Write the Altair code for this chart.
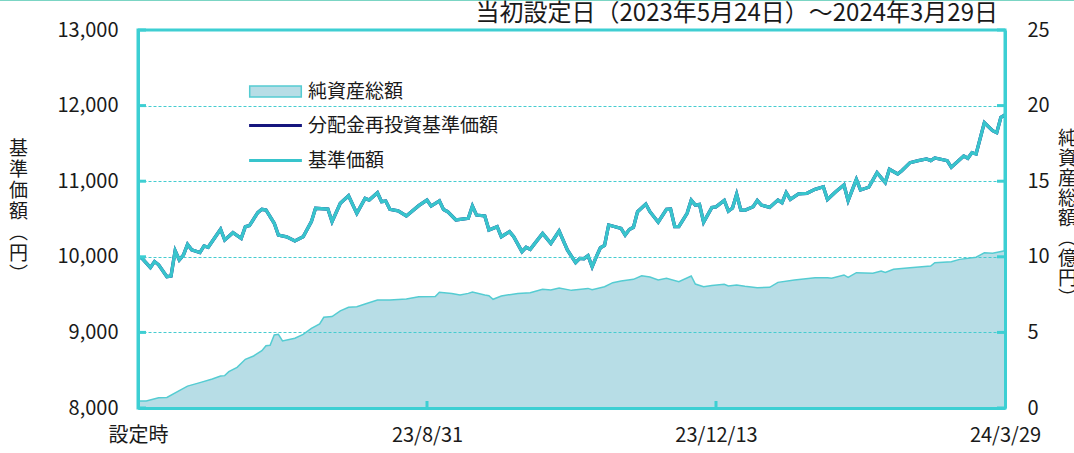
import altair as alt
import pandas as pd

# ---------------- data ----------------
# x positions are trading-day indices from the launch date (0) to 2024/3/29 (210)
nav_idx = [0, 1, 3, 4, 5, 7, 8, 9, 10, 11, 12, 13, 15, 16, 17, 20, 21, 23, 25, 26,
           27, 29, 30, 31, 33, 34, 36, 38, 40, 42, 43, 46, 47, 49, 51, 53, 55, 56, 58, 59,
           60, 61, 63, 65, 68, 70, 71, 73, 74, 75, 77, 80, 81, 82, 84, 85, 87, 88, 90, 91,
           93, 94, 95, 98, 100, 102, 104, 106, 107, 108, 109, 110, 111, 112, 113, 114, 117, 118, 119, 120,
           121, 123, 124, 126, 128, 129, 130, 131, 133, 134, 135, 136, 137, 139, 140, 142, 143, 144, 145, 146,
           147, 149, 150, 151, 153, 155, 156, 157, 158, 160, 162, 164, 166, 167, 169, 171, 172, 174, 175, 177,
           179, 181, 182, 184, 185, 187, 189, 191, 192, 193, 196, 197, 200, 201, 202, 203, 205, 207, 208, 209,
           210]
nav_val = [10000, 9980, 9857, 9937, 9894, 9737, 9745, 10081, 9958, 10023, 10165, 10093, 10056, 10143, 10126, 10364, 10222, 10319, 10244, 10399,
           10413, 10584, 10628, 10619, 10443, 10288, 10265, 10209, 10265, 10465, 10641, 10632, 10465, 10707, 10808, 10575, 10773, 10750, 10848, 10729,
           10738, 10628, 10609, 10540, 10676, 10750, 10671, 10740, 10625, 10597, 10487, 10509, 10671, 10552, 10540, 10354, 10399, 10265, 10332, 10265,
           10068, 10126, 10099, 10309, 10177, 10341, 10090, 9922, 9979, 9975, 10015, 9868, 10000, 10120, 10150, 10421, 10377, 10288, 10360, 10390,
           10597, 10698, 10597, 10457, 10628, 10632, 10399, 10399, 10575, 10750, 10684, 10694, 10458, 10653, 10660, 10745, 10603, 10645, 10828, 10619,
           10614, 10662, 10746, 10684, 10653, 10750, 10715, 10848, 10759, 10831, 10840, 10892, 10927, 10759, 10861, 10950, 10742, 11025, 10884, 10920,
           11114, 10982, 11158, 11095, 11139, 11245, 11272, 11294, 11272, 11307, 11272, 11184, 11333, 11303, 11378, 11360, 11774, 11669, 11642, 11846,
           11876]
# no distributions were paid, so the reinvested NAV equals the NAV
reinvest_val = list(nav_val)

aum_idx = [0, 2, 5, 7, 10, 12, 15, 18, 20, 21, 22, 24, 26, 28, 30, 31, 32, 33, 34, 35,
           38, 40, 42, 44, 45, 47, 49, 51, 53, 55, 58, 61, 65, 68, 72, 73, 76, 78, 80, 81,
           84, 85, 86, 88, 92, 95, 98, 100, 102, 105, 109, 110, 113, 115, 117, 120, 122, 124, 126, 128,
           131, 134, 135, 137, 139, 142, 143, 145, 147, 150, 153, 155, 159, 164, 167, 168, 171, 172, 174, 178,
           180, 181, 183, 187, 192, 193, 197, 199, 203, 205, 207, 210]
aum_val = [0.46, 0.46, 0.68, 0.70, 1.15, 1.45, 1.68, 1.92, 2.12, 2.14, 2.40, 2.69, 3.22, 3.44, 3.79, 4.12, 4.15, 4.83, 4.87, 4.43,
           4.61, 4.87, 5.27, 5.56, 6.00, 6.05, 6.42, 6.66, 6.70, 6.88, 7.14, 7.14, 7.21, 7.36, 7.37, 7.65, 7.58, 7.47, 7.58, 7.67,
           7.47, 7.43, 7.19, 7.41, 7.58, 7.62, 7.85, 7.80, 7.94, 7.78, 7.91, 7.82, 8.02, 8.29, 8.40, 8.51, 8.75, 8.66, 8.47, 8.58,
           8.35, 8.73, 8.20, 8.02, 8.10, 8.18, 8.07, 8.13, 8.05, 7.96, 7.98, 8.31, 8.47, 8.62, 8.62, 8.58, 8.80, 8.64, 8.95, 8.91,
           9.06, 8.97, 9.17, 9.28, 9.39, 9.61, 9.68, 9.83, 9.97, 10.27, 10.23, 10.40]

x_tick_pos = [0, 70, 140, 210]
x_tick_labels = ["設定時", "23/8/31", "23/12/13", "24/3/29"]
left_ticks = [8000, 9000, 10000, 11000, 12000, 13000]
right_ticks = [0, 5, 10, 15, 20, 25]

series_names = ["純資産総額", "分配金再投資基準価額", "基準価額"]
title_text = "当初設定日（2023年5月24日）～2024年3月29日"
left_title = ["基", "準", "価", "額", "︵", "円", "︶"]
right_title = ["純", "資", "産", "総", "額", "︵", "億", "円", "︶"]

# ---------------- styling ----------------
FONT = "Noto Sans CJK JP"
FRAME = "#3CCFD3"
NAV_C = "#38C4CC"
NAVY = "#16167E"
AREA_FILL = "#B7DDE6"
AREA_EDGE = "#55CCD2"
GRID = "#45CCD0"
TOPLINE = "#7BD5C4"
TXT = "#1A1A1A"
W, H = 867, 378

aum_df = pd.DataFrame({"i": aum_idx, "v": aum_val, "s": series_names[0]})
reinv_df = pd.DataFrame({"i": nav_idx, "v": reinvest_val, "s": series_names[1]})
nav_df = pd.DataFrame({"i": nav_idx, "v": nav_val, "s": series_names[2]})
ytick_df = pd.DataFrame({"i": [x_tick_pos[0]] * len(left_ticks), "v": left_ticks})
xtick_df = pd.DataFrame({"i": x_tick_pos[1:-1]})
top_df = pd.DataFrame({"k": [0]})

label_expr = " : ".join(
    f"datum.value == {p} ? '{l}'" for p, l in zip(x_tick_pos, x_tick_labels)
) + " : ''"

x_scale = alt.Scale(domain=[x_tick_pos[0], x_tick_pos[-1]], nice=False, zero=False)
yl_scale = alt.Scale(domain=[left_ticks[0], left_ticks[-1]], nice=False, zero=False)
yr_scale = alt.Scale(domain=[right_ticks[0], right_ticks[-1]], nice=False)

x_axis = alt.Axis(values=x_tick_pos, labelExpr=label_expr, title=None, grid=False,
                  ticks=False, tickSize=0, domain=True, domainColor=FRAME, domainWidth=3,
                  labelFontSize=20, labelPadding=17, labelFlush=False, labelOverlap=False,
                  labelColor=TXT, labelFont=FONT, zindex=1)

yr_axis = alt.Axis(orient="right", values=right_ticks, grid=False, ticks=False, tickSize=0,
                   domain=True, domainColor=FRAME, domainWidth=3, zindex=1,
                   labelFontSize=20, labelPadding=22, labelColor=TXT, labelFont=FONT,
                   title=right_title, titleAngle=0, titleAlign="center", titleBaseline="top",
                   titleX=62, titleY=99, titleLineHeight=20, titleFontSize=19,
                   titleFontWeight="normal", titleColor=TXT, titleFont=FONT)

yl_axis = alt.Axis(orient="left", values=left_ticks,
                   labelExpr="format(datum.value, ',')", grid=True,
                   gridColor=GRID, gridDash=[3, 2], gridWidth=1,
                   ticks=False, tickSize=0, domain=True, domainColor=FRAME,
                   domainWidth=3, zindex=1,
                   labelFontSize=20, labelPadding=20, labelColor=TXT, labelFont=FONT,
                   title=left_title, titleAngle=0, titleAlign="center",
                   titleBaseline="top", titleX=-120, titleY=109, titleLineHeight=21,
                   titleFontSize=19, titleFontWeight="normal", titleColor=TXT,
                   titleFont=FONT)

X = alt.X("i:Q", scale=x_scale, axis=x_axis)
YL = alt.Y("v:Q", scale=yl_scale, axis=yl_axis)

area = alt.Chart(aum_df).mark_area(stroke=AREA_EDGE, strokeWidth=1.5).encode(
    x=X,
    y=alt.Y("v:Q", scale=yr_scale, axis=yr_axis),
    fill=alt.Fill("s:N", scale=alt.Scale(domain=[series_names[0]], range=[AREA_FILL]),
                  legend=alt.Legend(orient="none", legendX=128, legendY=52, title=None,
                                    symbolType="M-4.3,-0.92H4.3V0.92H-4.3Z", symbolSize=144,
                                    symbolStrokeColor=AREA_EDGE, symbolStrokeWidth=1.5,
                                    labelFontSize=19, labelFont=FONT, labelColor=TXT,
                                    labelOffset=23, labelLimit=400)),
)

stroke_scale = alt.Scale(domain=series_names[1:], range=[NAVY, NAV_C])
stroke_legend = alt.Legend(orient="none", legendX=128, legendY=86, title=None,
                           symbolType="M-4.4,0H4.4", symbolSize=144, symbolStrokeWidth=3,
                           labelFontSize=19, labelFont=FONT, labelColor=TXT,
                           labelOffset=23, rowPadding=15, labelLimit=400)

reinv_line = alt.Chart(reinv_df).mark_line(strokeWidth=3.3).encode(
    x=X, y=YL,
    stroke=alt.Stroke("s:N", scale=stroke_scale, legend=stroke_legend),
)

nav_line = alt.Chart(nav_df).mark_line(strokeWidth=3.3).encode(
    x=X, y=YL,
    stroke=alt.Stroke("s:N", scale=stroke_scale, legend=stroke_legend),
)

ytick_left = alt.Chart(ytick_df).mark_rule(color=FRAME, strokeWidth=3).encode(
    y=YL, x=alt.value(0), x2=alt.value(8))
ytick_right = alt.Chart(ytick_df).mark_rule(color=FRAME, strokeWidth=3).encode(
    y=YL, x=alt.value(W - 8), x2=alt.value(W))
xtick = alt.Chart(xtick_df).mark_rule(color=FRAME, strokeWidth=3).encode(
    x=X, y=alt.value(H), y2=alt.value(H - 7))
top_rule = alt.Chart(top_df).mark_rule(color=TOPLINE, strokeWidth=2).encode(
    x=alt.value(-140), x2=alt.value(W + 80), y=alt.value(-30))

left_group = alt.layer(reinv_line, nav_line, ytick_left, ytick_right, xtick, top_rule)

chart = alt.layer(area, left_group).resolve_scale(y="independent").properties(
    width=W, height=H,
    background="white",
    autosize=alt.AutoSizeParams(type="none"),
    padding={"left": 138, "top": 30, "right": 69, "bottom": 45},
    title=alt.TitleParams(title_text, anchor="end", frame="group", fontSize=24,
                          font=FONT, fontWeight="normal", color=TXT, offset=0, dx=-7, dy=27),
).configure_view(stroke=FRAME, strokeWidth=3).configure_axis(
    gridColor=GRID, gridDash=[3, 2], gridWidth=1)

chart.save("out.html", embed_options={"renderer": "svg", "actions": False})
